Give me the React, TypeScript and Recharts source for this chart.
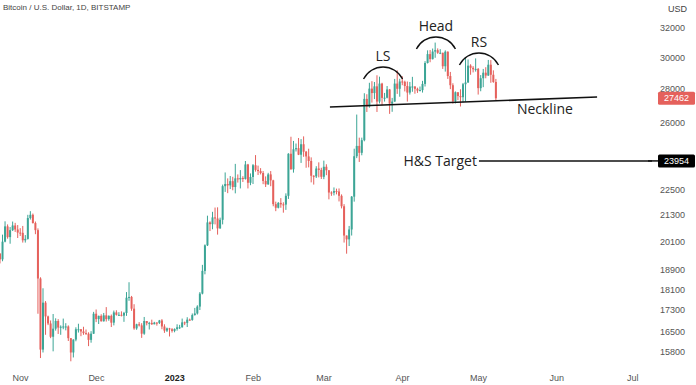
import React from 'react';
import {
  ComposedChart,
  Bar,
  XAxis,
  YAxis,
  ReferenceLine,
  ReferenceDot
} from 'recharts';

// daily candles [open, high, low, close], BTC/USD Bitstamp
const oct22 = [
  [19570, 19600, 19160, 19330], [19330, 20400, 19250, 20090], [20090, 21000, 20060, 20770],
  [20770, 20860, 20220, 20290], [20290, 20740, 20000, 20600], [20600, 20990, 20560, 20810],
  [20810, 20930, 20520, 20630], [20630, 20830, 20250, 20490]
];
const nov22 = [
  [20490, 20690, 20340, 20480], [20480, 20790, 20050, 20150], [20150, 20380, 20050, 20210],
  [20210, 21300, 20180, 21150], [21150, 21470, 21080, 21300], [21300, 21360, 20900, 20920],
  [20920, 20990, 20420, 20600], [20600, 20680, 17170, 18540], [18540, 18590, 15590, 15880],
  [15880, 18150, 15780, 17590], [17590, 17650, 16400, 17070], [17070, 17100, 16750, 16810],
  [16810, 16920, 16280, 16330], [16330, 17160, 15820, 16620], [16620, 17000, 16550, 16900],
  [16900, 16970, 16430, 16660], [16660, 16740, 16400, 16690], [16690, 16990, 16600, 16700],
  [16700, 16820, 16560, 16700], [16700, 16740, 16180, 16280], [16280, 16280, 15480, 15780],
  [15780, 16240, 15610, 16230], [16230, 16670, 16170, 16600], [16600, 16800, 16480, 16600],
  [16600, 16600, 16350, 16520], [16520, 16690, 16400, 16460], [16460, 16590, 16400, 16440],
  [16440, 16490, 16000, 16220], [16220, 16530, 16120, 16440], [16440, 17240, 16430, 17170]
];
const dec22 = [
  [17170, 17330, 16860, 16970], [16970, 17100, 16790, 17090], [17090, 17150, 16880, 16890],
  [16890, 17200, 16880, 17110], [17110, 17420, 16880, 16970], [16970, 17110, 16910, 17090],
  [17090, 17140, 16680, 16840], [16840, 17290, 16740, 17220], [17220, 17300, 17100, 17130],
  [17130, 17230, 17090, 17130], [17130, 17260, 17070, 17100], [17100, 17240, 16870, 17200],
  [17200, 18000, 17090, 17780], [17780, 18390, 17660, 17810], [17810, 17850, 17280, 17360],
  [17360, 17530, 16580, 16630], [16630, 16800, 16580, 16780], [16780, 16860, 16700, 16740],
  [16740, 16820, 16290, 16440], [16440, 17050, 16400, 16900], [16900, 16900, 16740, 16820],
  [16820, 16870, 16590, 16830], [16830, 16950, 16760, 16780], [16780, 16870, 16780, 16840],
  [16840, 16860, 16730, 16830], [16830, 16940, 16790, 16920], [16920, 16970, 16600, 16700],
  [16700, 16780, 16470, 16550], [16550, 16660, 16500, 16630], [16630, 16650, 16340, 16600],
  [16600, 16640, 16480, 16540]
];
const jan23 = [
  [16540, 16630, 16490, 16610], [16610, 16780, 16550, 16670], [16670, 16760, 16610, 16670],
  [16670, 16990, 16660, 16850], [16850, 16880, 16750, 16830], [16830, 17040, 16680, 16950],
  [16950, 16990, 16910, 16940], [16940, 17180, 16910, 17120], [17120, 17390, 17100, 17180],
  [17180, 17490, 17140, 17440], [17440, 18000, 17310, 17940], [17940, 19100, 17910, 18850],
  [18850, 19970, 18710, 19930], [19930, 21260, 19900, 20950], [20950, 21000, 20560, 20870],
  [20870, 21440, 20640, 21180], [21180, 21640, 20860, 21130], [21130, 21650, 20400, 20680],
  [20680, 21170, 20660, 21070], [21070, 22750, 20860, 22670], [22670, 23360, 22390, 22780],
  [22780, 23060, 22330, 22710], [22710, 23180, 22530, 22920], [22920, 23140, 22470, 22630],
  [22630, 23800, 22320, 23060], [23060, 23260, 22850, 23010], [23010, 23480, 22560, 23080],
  [23080, 23170, 22880, 23030], [23030, 23950, 23000, 23770], [23770, 23800, 22560, 22840],
  [22840, 23310, 22720, 23130]
];
const feb23 = [
  [23130, 23790, 22780, 23730], [23730, 24260, 23400, 23490], [23490, 23710, 23230, 23430],
  [23430, 23580, 23260, 23330], [23330, 23430, 22770, 22930], [22930, 23160, 22630, 22760],
  [22760, 23340, 22740, 23260], [23260, 23430, 22670, 22960], [22960, 22990, 21700, 21800],
  [21800, 21920, 21470, 21630], [21630, 21900, 21600, 21860], [21860, 22090, 21630, 21790],
  [21790, 21890, 21400, 21780], [21780, 22320, 21530, 22200], [22200, 24360, 22050, 24330],
  [24330, 25250, 23500, 23520], [23520, 25020, 23350, 24570], [24570, 24880, 24450, 24630],
  [24630, 25180, 24260, 24280], [24280, 25120, 23850, 24840], [24840, 25270, 24170, 24440],
  [24440, 24480, 23600, 24190], [24190, 24600, 23620, 23950], [23950, 24140, 22860, 23190],
  [23190, 23220, 22750, 23160], [23160, 23680, 23080, 23560], [23560, 23880, 23110, 23490],
  [23490, 23600, 23030, 23140]
];
const mar23 = [
  [23140, 23970, 23020, 23650], [23650, 23780, 23220, 23470], [23470, 23480, 22030, 22360],
  [22360, 22420, 22200, 22350], [22350, 22610, 22220, 22430], [22430, 22550, 22270, 22410],
  [22410, 22560, 21930, 22200], [22200, 22270, 21600, 21700], [21700, 21800, 20050, 20360],
  [20360, 20360, 19570, 20190], [20190, 20790, 19900, 20630], [20630, 22190, 20360, 22160],
  [22160, 24600, 21920, 24200], [24200, 26500, 24100, 24750], [24750, 25200, 23900, 24380],
  [24380, 25200, 24250, 25060], [25060, 27760, 25000, 27420], [27420, 27700, 26650, 26970],
  [26970, 28400, 26900, 28040], [28040, 28500, 27200, 27770], [27770, 28450, 27410, 28180],
  [28180, 28870, 26650, 27260], [27260, 28780, 27150, 28350], [28350, 28400, 27040, 27480],
  [27480, 27780, 27260, 27490], [27490, 28200, 27450, 27990], [27990, 28020, 26540, 27140],
  [27140, 27480, 26660, 27260], [27260, 28640, 27250, 28350], [28350, 29180, 27720, 28030],
  [28030, 28650, 27550, 28480]
];
const apr23 = [
  [28480, 28810, 28250, 28460], [28460, 28530, 27870, 28200], [28200, 28480, 27260, 27800],
  [27800, 28450, 27680, 28170], [28170, 28770, 27850, 28170], [28170, 28190, 27730, 28030],
  [28030, 28100, 27780, 27920], [27920, 28170, 27880, 27950], [27950, 28520, 27800, 28330],
  [28330, 29770, 28170, 29650], [29650, 30480, 29620, 30230], [30230, 30500, 29700, 29900],
  [29900, 30600, 29880, 30400], [30400, 31000, 29990, 30490], [30490, 30610, 30250, 30320],
  [30320, 30560, 30230, 30320], [30320, 30320, 29270, 29440], [29440, 30480, 29100, 30390],
  [30390, 30410, 28640, 28820], [28820, 29080, 28010, 28250], [28250, 28370, 27140, 27280],
  [27280, 27870, 27150, 27820], [27820, 27820, 27350, 27590], [27590, 28000, 26970, 27520],
  [27520, 28390, 27210, 28310], [28310, 30020, 27250, 28420], [28420, 29880, 28390, 29480],
  [29480, 29570, 28900, 29340], [29340, 29450, 29050, 29250], [29250, 29950, 29100, 29270]
];
const may23 = [
  [29270, 29330, 27680, 28070], [28070, 28880, 27880, 28680], [28680, 29270, 28130, 29030],
  [29030, 29380, 28680, 28850], [28850, 29850, 28830, 29540], [29540, 29840, 28400, 28900],
  [28900, 29180, 28400, 28450], [28450, 28640, 27340, 27462]
];

const MONTHS = [
  { year: 2022, month: 9, first: 24, candles: oct22 },
  { year: 2022, month: 10, first: 1, candles: nov22 },
  { year: 2022, month: 11, first: 1, candles: dec22 },
  { year: 2023, month: 0, first: 1, candles: jan23 },
  { year: 2023, month: 1, first: 1, candles: feb23 },
  { year: 2023, month: 2, first: 1, candles: mar23 },
  { year: 2023, month: 3, first: 1, candles: apr23 },
  { year: 2023, month: 4, first: 1, candles: may23 }
];

// x axis: days since 1 Nov 2022
const monthTicks = [0, 30, 61, 92, 120, 151, 181, 212, 242];
const monthLabels = ['Nov', 'Dec', '2023', 'Feb', 'Mar', 'Apr', 'May', 'Jun', 'Jul'];
const priceTicks = [15800, 16500, 17300, 18100, 18900, 20100, 21300, 22500, 26000, 28000, 30000, 32000];
const lastPrice = 27462;
const targetPrice = 23954;

// annotations, in (day, price)
const neckline = [{ d: 122.3, p: 26940 }, { d: 227.9, p: 27530 }];
const shoulders = [
  { label: 'LS', d: 143.3, p: 29390 },
  { label: 'Head', d: 164.2, p: 31380 },
  { label: 'RS', d: 181.2, p: 30300 }
];
const necklineText = { d: 196.2, p: 26820 };
const targetText = { d: 180.4, from: 181.2 };

const X_DOMAIN = [-8.1, 249.6];
const Y_DOMAIN = [15322, 34013];
const UP = '#3ca596';
const DOWN = '#e5615c';
const FONT = '"Liberation Sans", Arial, sans-serif';
const NOTE_FONT = '"Open Sans", sans-serif';

const DAY = 86400000;
const origin = Date.UTC(2022, 10, 1);
const rows = MONTHS.flatMap(({ year, month, first, candles }) =>
  candles.map(([o, h, l, c], i) => ({
    d: (Date.UTC(year, month, first + i) - origin) / DAY,
    wick: [l, h],
    body: [Math.min(o, c), Math.max(o, c)],
    up: c >= o
  }))
);

const Wick = (p: any) => {
  const cx = p.x + p.width / 2;
  const top = Math.min(p.y, p.y + p.height);
  const h = Math.max(Math.abs(p.height), 1);
  return <rect x={cx - 0.5} y={top} width={1} height={h} fill={p.payload.up ? UP : DOWN} />;
};

const Body = (p: any) => {
  const cx = p.x + p.width / 2;
  const top = Math.min(p.y, p.y + p.height);
  const h = Math.max(Math.abs(p.height), 1);
  return <rect x={cx - 1} y={top} width={2} height={h} fill={p.payload.up ? UP : DOWN} />;
};

// month label, hung below the plot's bottom edge (cy)
const MonthLabel = ({ cx, cy, label }: any) => {
  const bold = label === '2023';
  return (
    <text x={cx} y={cy + 14.5} textAnchor="middle" fontSize={9} fontFamily={FONT}
      fontWeight={bold ? 700 : 400} fill={bold ? '#222' : '#555'}>
      {label}
    </text>
  );
};

const PriceTick = (p: any) => {
  const { x, y } = p;
  const v = p.payload.value;
  if (v === lastPrice || v === targetPrice) {
    return (
      <g>
        {v === targetPrice && <line x1={x - 12} x2={x} y1={y} y2={y} stroke="#111" strokeWidth={1.5} />}
        <rect x={x - 2} y={y - 6.5} width={37} height={13} rx={1.5} fill={v === lastPrice ? DOWN : '#000'} />
        <text x={x + 16.5} y={y} dy="0.35em" textAnchor="middle" fontSize={9} fontFamily={FONT} fill="#fff">
          {v}
        </text>
      </g>
    );
  }
  return (
    <text x={x} y={y} dy="0.35em" textAnchor="start" fontSize={9} fontFamily={FONT} fill="#555">
      {v}
    </text>
  );
};

const Arc = ({ cx, cy, text }: any) => (
  <g>
    <path d={`M${cx - 19.5},${cy + 12} A21.8,21.8 0 0 1 ${cx + 19.5},${cy + 12}`}
      fill="none" stroke="#111" strokeWidth={1.4} />
    <text x={cx} y={cy - 10.5} dy="0.35em" textAnchor="middle" fontSize={14}
      fontFamily={NOTE_FONT} fill="#222">
      {text}
    </text>
  </g>
);

const Note = ({ cx, cy, text, anchor }: any) => (
  <text x={cx} y={cy} dy="0.35em" textAnchor={anchor} fontSize={14} fontFamily={NOTE_FONT} fill="#222">
    {text}
  </text>
);

export default function App() {
  return (
    <div style={{ position: 'absolute', left: 0, top: 0, width: 696, height: 385, background: '#fff' }}>
      <ComposedChart width={696} height={385} data={rows} margin={{ top: 0, right: 0, bottom: 0, left: 0 }}>
        <XAxis xAxisId="t" type="number" dataKey="d" domain={X_DOMAIN} allowDataOverflow
          ticks={monthTicks} tick={false} axisLine={false} tickLine={false} height={19} />
        <XAxis xAxisId="b" type="number" dataKey="d" domain={X_DOMAIN} allowDataOverflow hide />
        <YAxis orientation="right" scale="log" domain={Y_DOMAIN} allowDataOverflow
          ticks={[...priceTicks, targetPrice, lastPrice]} interval={0} tick={<PriceTick />}
          axisLine={false} tickLine={false} tickSize={0} tickMargin={8} width={44} />

        <Bar xAxisId="t" dataKey="wick" barSize={2} shape={<Wick />} isAnimationActive={false} />
        <Bar xAxisId="b" dataKey="body" barSize={2} shape={<Body />} isAnimationActive={false} />

        {monthTicks.map((t, i) => (
          <ReferenceDot key={t} xAxisId="t" x={t} y={Y_DOMAIN[0]} r={1} ifOverflow="visible"
            shape={(p: any) => <MonthLabel cx={p.cx} cy={p.cy} label={monthLabels[i]} />} />
        ))}

        <ReferenceLine xAxisId="t" segment={neckline.map((n) => ({ x: n.d, y: n.p }))}
          stroke="#111" strokeWidth={1.6} />
        <ReferenceLine xAxisId="t"
          segment={[{ x: targetText.from, y: targetPrice }, { x: X_DOMAIN[1], y: targetPrice }]}
          stroke="#111" strokeWidth={1.5} />

        {shoulders.map((s) => (
          <ReferenceDot key={s.label} xAxisId="t" x={s.d} y={s.p} r={1}
            shape={(p: any) => <Arc cx={p.cx} cy={p.cy} text={s.label} />} />
        ))}
        <ReferenceDot xAxisId="t" x={necklineText.d} y={necklineText.p} r={1}
          shape={(p: any) => <Note cx={p.cx} cy={p.cy} text="Neckline" anchor="start" />} />
        <ReferenceDot xAxisId="t" x={targetText.d} y={targetPrice} r={1}
          shape={(p: any) => <Note cx={p.cx} cy={p.cy} text="H&S Target" anchor="end" />} />
      </ComposedChart>

      <div style={{ position: 'absolute', left: 3, top: 3, fontSize: 8, fontFamily: FONT, color: '#444' }}>
        Bitcoin / U.S. Dollar, 1D, BITSTAMP
      </div>
      <div style={{ position: 'absolute', left: 668, top: 4, fontSize: 9, fontFamily: FONT, color: '#444' }}>
        USD
      </div>
    </div>
  );
}
